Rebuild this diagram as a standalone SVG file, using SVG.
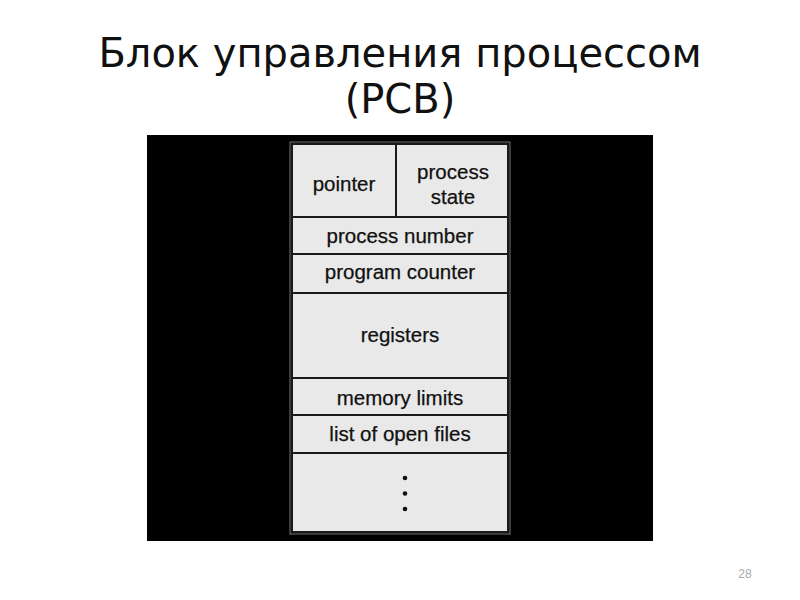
<svg xmlns="http://www.w3.org/2000/svg" width="800" height="600" viewBox="0 0 800 600">
<style>
.title{font-family:"DejaVu Sans",sans-serif;font-size:40px;fill:#111;text-anchor:middle}
.cell{fill:#e9e9e9;stroke:#1a1a1a;stroke-width:2}
.lbl{font-family:"Liberation Sans",Arial,sans-serif;font-size:20.5px;fill:#111;text-anchor:middle;stroke:#111;stroke-width:0.25}
.dot{fill:#111}
</style>
<rect width="800" height="600" fill="#ffffff"/>
<text class="title" x="400" y="67">Блок управления процессом</text>
<text class="title" x="400" y="113">(PCB)</text>
<rect x="147" y="135" width="506" height="406" fill="#000"/>
<rect x="290" y="142" width="220" height="392" fill="none" stroke="#777" stroke-width="1"/>
<g id="pointer"><rect class="cell" x="292" y="144" width="104" height="73"/><text class="lbl" x="344" y="191">pointer</text></g>
<g id="process-state"><rect class="cell" x="396" y="144" width="112" height="73"/><text class="lbl" x="453" y="179">process</text><text class="lbl" x="453" y="204">state</text></g>
<g id="process-number"><rect class="cell" x="292" y="217" width="216" height="37"/><text class="lbl" x="400" y="243">process number</text></g>
<g id="program-counter"><rect class="cell" x="292" y="254" width="216" height="39"/><text class="lbl" x="400" y="279">program counter</text></g>
<g id="registers"><rect class="cell" x="292" y="293" width="216" height="85"/><text class="lbl" x="400" y="342">registers</text></g>
<g id="memory-limits"><rect class="cell" x="292" y="378" width="216" height="37"/><text class="lbl" x="400" y="405">memory limits</text></g>
<g id="open-files"><rect class="cell" x="292" y="415" width="216" height="38"/><text class="lbl" x="400" y="441">list of open files</text></g>
<g id="more"><rect class="cell" x="292" y="453" width="216" height="79"/><circle class="dot" cx="405" cy="478" r="2.3"/><circle class="dot" cx="405" cy="493.5" r="2.3"/><circle class="dot" cx="405" cy="509" r="2.3"/></g>
<g id="connectors"></g>
<text x="745" y="578" font-family="Liberation Sans,Arial,sans-serif" font-size="12" fill="#aaa" text-anchor="middle">28</text>
</svg>
